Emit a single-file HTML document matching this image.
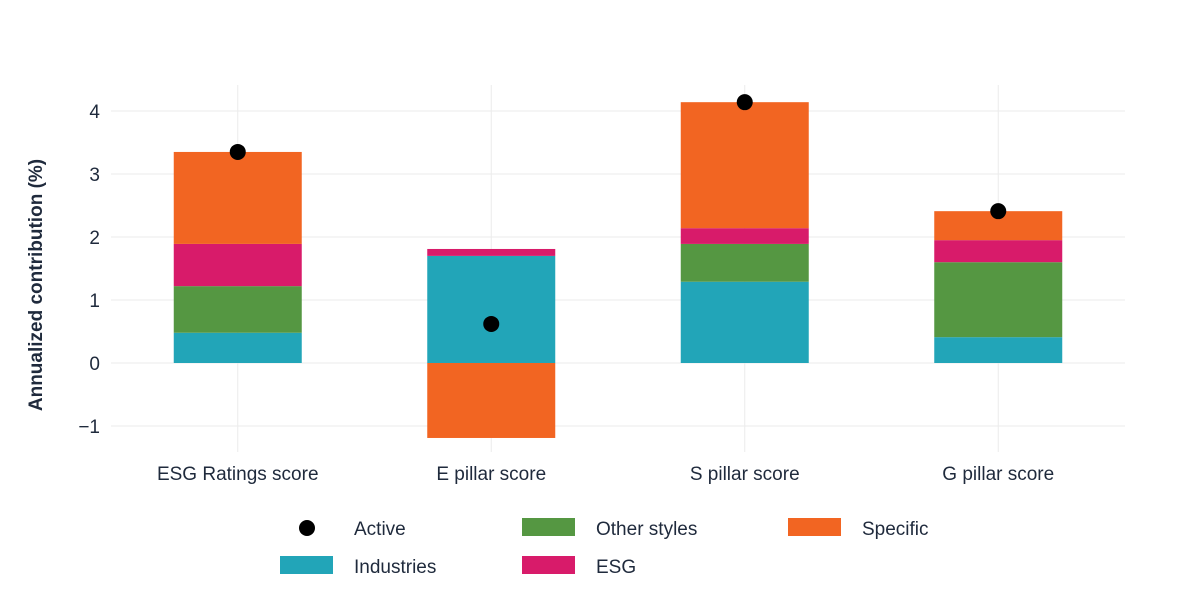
<!DOCTYPE html>
<html><head><meta charset="utf-8">
<style>
html,body{margin:0;padding:0;background:#fff;}
svg{display:block;font-family:"Liberation Sans",sans-serif;}
</style></head>
<body>
<svg id="chart" width="1200" height="600">
<g id="grid"></g>
<g id="bars"></g>
<g id="dots"></g>
<g id="yticks"></g>
<g id="xticks"></g>
<text transform="translate(42,285) rotate(-90)" text-anchor="middle" font-size="19" font-weight="bold" fill="#1f2a3c">Annualized contribution (%)</text>
<g font-size="19" fill="#1f2a3c">
 <g><circle cx="307" cy="528" r="8" fill="#000"/><text x="354" y="535">Active</text></g>
 <g><rect x="522" y="518" width="53" height="18" fill="#559742"/><text x="596" y="535">Other styles</text></g>
 <g><rect x="788" y="518" width="53" height="18" fill="#f26522"/><text x="862" y="535">Specific</text></g>
 <g><rect x="280" y="556" width="53" height="18" fill="#22a5b8"/><text x="354" y="573">Industries</text></g>
 <g><rect x="522" y="556" width="53" height="18" fill="#d81b6a"/><text x="596" y="573">ESG</text></g>
</g>
</svg>
<script>
const categories=["ESG Ratings score","E pillar score","S pillar score","G pillar score"];
const industries=[0.48,1.70,1.29,0.41];
const otherStyles=[0.74,0,0.60,1.19];
const esg=[0.67,0.11,0.25,0.35];
const specific=[1.46,-1.19,2.00,0.46];
const active=[3.35,0.62,4.14,2.41];
const yTicks=[-1,0,1,2,3,4];
const NS="http://www.w3.org/2000/svg";
const x0=111,x1=1125,bw=128;
function y(v){return 363-v*63;}
function xc(i){return x0+(x1-x0)/categories.length*(i+0.5);}
function mk(t,a,p){const e=document.createElementNS(NS,t);for(const k in a)e.setAttribute(k,a[k]);p.appendChild(e);return e;}
const grid=document.getElementById('grid'),yt=document.getElementById('yticks'),xt=document.getElementById('xticks'),bars=document.getElementById('bars'),dots=document.getElementById('dots');
yTicks.forEach(v=>{
 const l=mk('line',{x1:x0,x2:x1,y1:y(v),y2:y(v),stroke:'#ebebeb','stroke-width':1},grid);
 
 
 const t=mk('text',{x:100,y:y(v)+7,'text-anchor':'end','font-size':19,fill:'#1f2a3c'},yt);
 t.textContent=v<0?'\u2212'+Math.abs(v):String(v);
 
 
});
categories.forEach((c,i)=>{
 const cx=xc(i);
 const g=mk('line',{x1:cx,x2:cx,y1:85,y2:452,stroke:'#ebebeb','stroke-width':1},grid);
 
 
 const t=mk('text',{x:cx,y:480,'text-anchor':'middle','font-size':19,fill:'#1f2a3c'},xt);
 t.textContent=c;
 
 
 let pos=0,neg=0;
 [[industries,'#22a5b8','industries'],[otherStyles,'#559742','other-styles'],[esg,'#d81b6a','esg'],[specific,'#f26522','specific']].forEach(([arr,col,nm])=>{
  const v=arr[i]; if(!v) return;
  let a,b; if(v>0){a=pos;b=pos+v;pos=b;}else{a=neg;b=neg+v;neg=b;}
  const r=mk('rect',{x:cx-bw/2,y:y(Math.max(a,b)),width:bw,height:Math.abs(y(a)-y(b)),fill:col},bars);
  
  
 });
 const d=mk('circle',{cx:cx,cy:y(active[i]),r:8,fill:'#000'},dots);
 
 
});
</script>
</body></html>
